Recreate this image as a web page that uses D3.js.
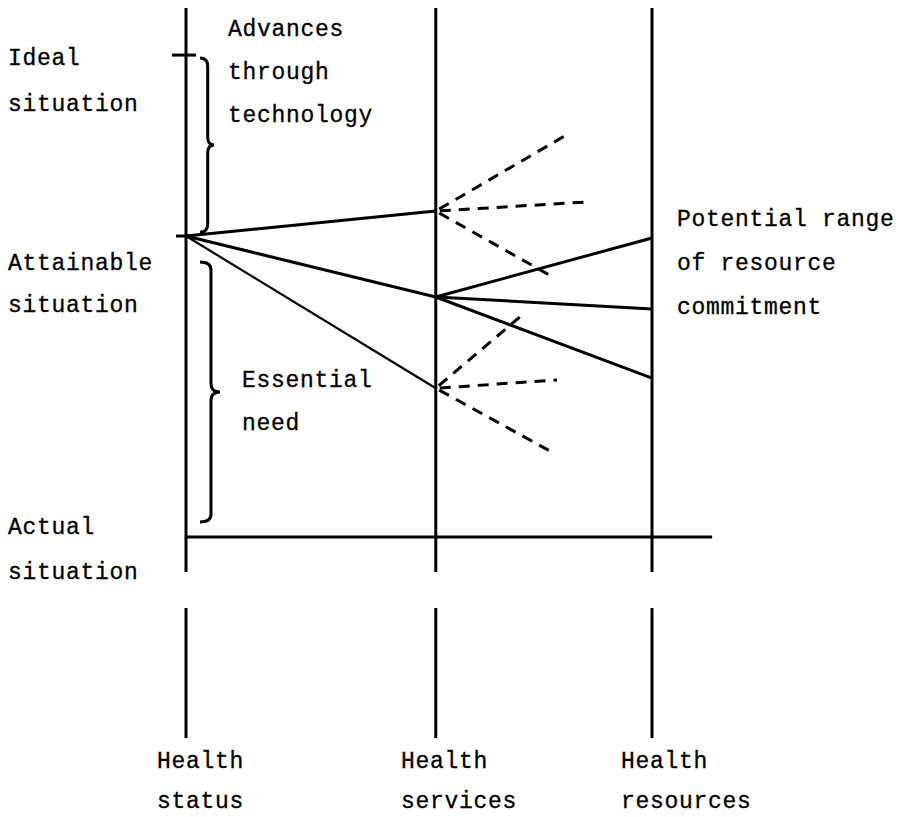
<!DOCTYPE html>
<html>
<head>
<meta charset="utf-8">
<script src="https://cdn.jsdelivr.net/npm/d3@7"></script>
<style>
  html, body { margin: 0; padding: 0; background: #fff; }
  svg text { font-family: "Liberation Mono", "DejaVu Sans Mono", monospace; font-size: 23px; letter-spacing: 0.7px; fill: #000; stroke: #000; stroke-width: 0.3px; }
</style>
</head>
<body>
<svg id="chart" width="902" height="817"></svg>
<script>
// ---------- data ----------
// x in "stage" units (0 = health status axis, 10 = health resources axis)
// y in "level" units (0 = actual situation, 100 = ideal situation)
const axisNames = ["Health status", "Health services", "Health resources"];
const axisX = [0, 5.36, 10];
const axisTop = 110.2, axisBottom = -7.3;
const lowerAxisTop = -14.8, lowerAxisBottom = -41.9;
const axisLabelTop = ["Health", "Health", "Health"];
const axisLabelBottom = ["status", "services", "resources"];

const levelNames = ["Ideal situation", "Attainable situation", "Actual situation"];
const levelValues = [100.4, 62.7, 0];
const actualLineEnd = 11.29;

// solid paths: attainable point -> service options
const serviceLevels = [67.9, 50.0, 31.0];
// service middle option -> resource commitments
const resourceLevels = [62.3, 47.5, 33.1];

// dashed alternatives [fromServiceIndex, toX, toLevel]
const dashedFrom = [0, 0, 0, 2, 2, 2];
const dashedToX = [8.24, 8.61, 7.83, 7.27, 7.96, 7.85];
const dashedToLevel = [84.2, 69.8, 54.4, 46.7, 32.7, 17.7];

// braces [fromLevel, toLevel]
const braceFrom = [99.8, 57.3];
const braceTo = [63.5, 3.1];

// ---------- scales ----------
const svg = d3.select("#chart");
const x = d3.scaleLinear().domain([0, 10]).range([186, 652]);
const y = d3.scaleLinear().domain([0, 100]).range([537, 57]);

const g = svg.append("g");

// vertical axes (upper and lower segments)
g.selectAll("line.axis").data(axisX).join("line")
  .attr("class", "axis")
  .attr("x1", d => x(d)).attr("x2", d => x(d))
  .attr("y1", y(axisTop)).attr("y2", y(axisBottom))
  .attr("stroke", "#000").attr("stroke-width", 3);
g.selectAll("line.laxis").data(axisX).join("line")
  .attr("class", "laxis")
  .attr("x1", d => x(d)).attr("x2", d => x(d))
  .attr("y1", y(lowerAxisTop)).attr("y2", y(lowerAxisBottom))
  .attr("stroke", "#000").attr("stroke-width", 3);

// actual situation baseline
g.append("line")
  .attr("x1", x(0)).attr("x2", x(actualLineEnd))
  .attr("y1", y(levelValues[2])).attr("y2", y(levelValues[2]))
  .attr("stroke", "#000").attr("stroke-width", 3);

// ideal & attainable ticks
g.append("line").attr("x1", x(0) - 14).attr("x2", x(0) + 10)
  .attr("y1", y(levelValues[0])).attr("y2", y(levelValues[0]))
  .attr("stroke", "#000").attr("stroke-width", 3);
g.append("line").attr("x1", x(0) - 10).attr("x2", x(0) + 4)
  .attr("y1", y(levelValues[1])).attr("y2", y(levelValues[1]))
  .attr("stroke", "#000").attr("stroke-width", 3);

// solid lines attainable -> services
g.selectAll("line.svc").data(serviceLevels).join("line")
  .attr("class", "svc")
  .attr("x1", x(axisX[0])).attr("y1", y(levelValues[1]))
  .attr("x2", x(axisX[1])).attr("y2", d => y(d))
  .attr("stroke", "#000").attr("stroke-width", (d, i) => i === 2 ? 2.2 : 3);

// solid lines middle service -> resources
g.selectAll("line.res").data(resourceLevels).join("line")
  .attr("class", "res")
  .attr("x1", x(axisX[1])).attr("y1", y(serviceLevels[1]))
  .attr("x2", x(axisX[2])).attr("y2", d => y(d))
  .attr("stroke", "#000").attr("stroke-width", 3);

// dashed alternatives
g.selectAll("line.dash").data(dashedFrom).join("line")
  .attr("class", "dash")
  .attr("x1", x(axisX[1])).attr("y1", d => y(serviceLevels[d]))
  .attr("x2", (d, i) => x(dashedToX[i])).attr("y2", (d, i) => y(dashedToLevel[i]))
  .attr("stroke", "#000").attr("stroke-width", 3)
  .attr("stroke-dasharray", "11,8").attr("stroke-dashoffset", -4);

// braces
function brace(x0, y0, y1, w) {
  const p = d3.path();
  const ym = (y0 + y1) / 2;
  const r = 8;
  p.moveTo(x0, y0);
  p.quadraticCurveTo(x0 + w * 0.55, y0, x0 + w * 0.55, y0 + r);
  p.lineTo(x0 + w * 0.55, ym - r);
  p.quadraticCurveTo(x0 + w * 0.55, ym, x0 + w, ym);
  p.quadraticCurveTo(x0 + w * 0.55, ym, x0 + w * 0.55, ym + r);
  p.lineTo(x0 + w * 0.55, y1 - r);
  p.quadraticCurveTo(x0 + w * 0.55, y1, x0, y1);
  return p.toString();
}
g.selectAll("path.brace").data(braceFrom).join("path")
  .attr("class", "brace")
  .attr("d", (d, i) => brace(x(0) + 14, y(d), y(braceTo[i]), i === 0 ? 14 : 20))
  .attr("fill", "none").attr("stroke", "#000").attr("stroke-width", 3);

// ---------- text ----------
function label(lines, tx, ty, dyStep) {
  const t = g.append("text").attr("x", tx).attr("y", ty);
  lines.forEach((s, i) => t.append("tspan").attr("x", tx).attr("y", ty + i * dyStep).text(s));
}
// left level labels
label(["Ideal", "situation"], 8, 65, 46);
label(["Attainable", "situation"], 8, 270, 42);
label(["Actual", "situation"], 8, 534, 45);
// braces text
label(["Advances", "through", "technology"], 228, 36, 43);
label(["Essential", "need"], 242, 387, 43);
// resource label
label(["Potential range", "of resource", "commitment"], 677, 226, 44);
// axis labels
axisX.forEach((d, i) => {
  const tx = [157, 401, 621][i];
  label([axisLabelTop[i], axisLabelBottom[i]], tx, 768, 40);
});
</script>
</body>
</html>
